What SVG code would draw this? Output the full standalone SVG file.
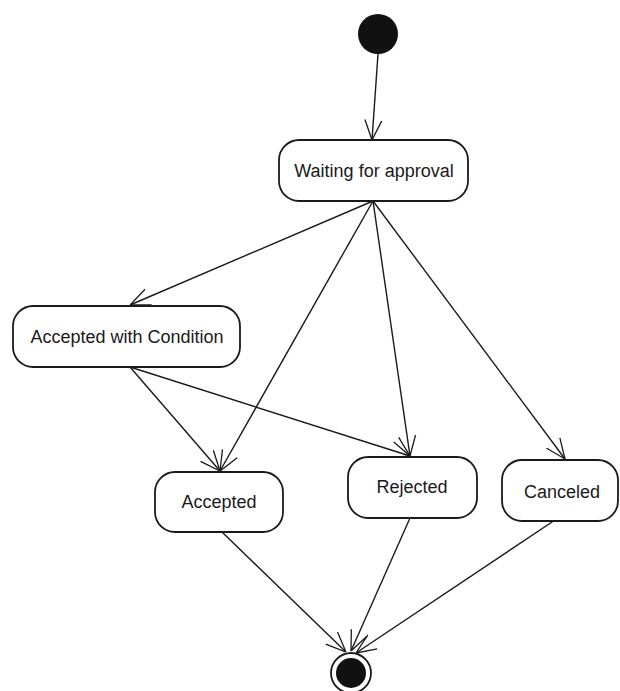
<svg xmlns="http://www.w3.org/2000/svg" width="620" height="691" viewBox="0 0 620 691">
  <style>
    .state rect { fill: #ffffff; stroke: #1a1a1a; stroke-width: 1.8; }
    .state text { font-family: "Liberation Sans", Arial, sans-serif; font-size: 18px; fill: #1a1a1a; text-anchor: middle; }
    .edge { fill: none; stroke: #1a1a1a; stroke-width: 1.4; marker-end: url(#open); }
  </style>
  <defs>
    <marker id="open" viewBox="0 0 20 20" refX="20" refY="10" markerWidth="20" markerHeight="20" markerUnits="userSpaceOnUse" orient="auto">
      <path d="M0,1.5 L20,10 L0,18.5" fill="none" stroke="#1a1a1a" stroke-width="1.3"/>
    </marker>
  </defs>
  <rect width="620" height="691" fill="#ffffff"/>

  <!-- transitions -->
  <g id="connectors">
    <line class="edge" x1="378" y1="54" x2="372" y2="140"/>
    <line class="edge" x1="373" y1="201" x2="130" y2="305"/>
    <line class="edge" x1="373" y1="201" x2="220" y2="471"/>
    <line class="edge" x1="373" y1="201" x2="410" y2="456"/>
    <line class="edge" x1="373" y1="201" x2="565" y2="459"/>
    <line class="edge" x1="130" y1="367" x2="220" y2="471"/>
    <line class="edge" x1="130" y1="367" x2="410" y2="456"/>
    <line class="edge" x1="222" y1="532" x2="346" y2="652"/>
    <line class="edge" x1="410" y1="518" x2="351" y2="651"/>
    <line class="edge" x1="555" y1="520" x2="356" y2="653"/>
  </g>

  <!-- initial pseudo-state -->
  <g id="initial">
    <circle cx="378" cy="34" r="20" fill="#111111"/>
  </g>

  <g id="waiting" class="state">
    <rect x="279" y="140" width="189" height="61" rx="20" ry="20"/>
    <text x="374" y="177">Waiting for approval</text>
  </g>

  <g id="accepted-with-condition" class="state">
    <rect x="13" y="306" width="227" height="61" rx="20" ry="20"/>
    <text x="127" y="343">Accepted with Condition</text>
  </g>

  <g id="accepted" class="state">
    <rect x="155" y="472" width="128" height="60" rx="20" ry="20"/>
    <text x="219" y="508">Accepted</text>
  </g>

  <g id="rejected" class="state">
    <rect x="348" y="457" width="129" height="61" rx="20" ry="20"/>
    <text x="412" y="493">Rejected</text>
  </g>

  <g id="canceled" class="state">
    <rect x="502" y="460" width="116" height="61" rx="20" ry="20"/>
    <text x="562" y="498">Canceled</text>
  </g>

  <!-- final state -->
  <g id="final">
    <circle cx="351" cy="673" r="20" fill="#ffffff" stroke="#1a1a1a" stroke-width="1.8"/>
    <circle cx="351" cy="673" r="15" fill="#111111"/>
  </g>
</svg>
